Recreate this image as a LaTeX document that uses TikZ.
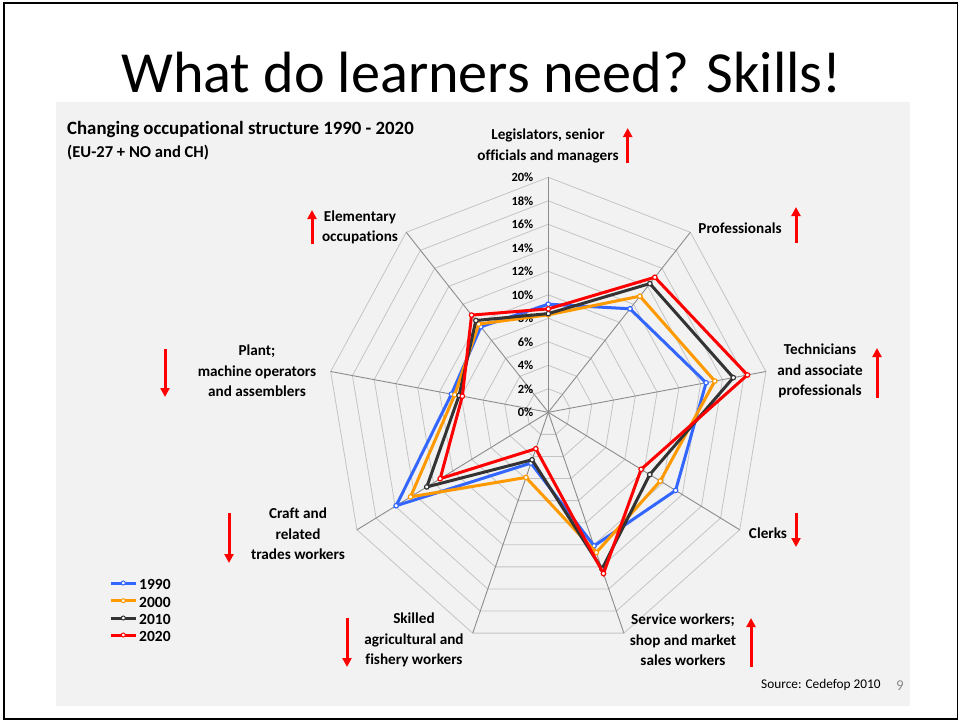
\documentclass[tikz,border=0pt]{standalone}
\usepackage{fontspec}
\setmainfont{Carlito}[Ligatures=NoCommon]
\usetikzlibrary{arrows.meta}
\definecolor{c90}{HTML}{3366FF}
\definecolor{c00}{HTML}{FF9900}
\definecolor{c10}{HTML}{333333}
\definecolor{c20}{HTML}{FF0000}
\definecolor{bgc}{HTML}{F2F2F2}
\definecolor{ringc}{HTML}{C4C4C4}
\definecolor{axisc}{HTML}{8C8C8C}
\definecolor{pgnum}{HTML}{8C8C8C}
\tikzset{
  serline/.style={line width=3pt, line join=miter},
  dotm/.style={circle, inner sep=0pt, minimum size=4.5pt, fill=white, line width=1.2pt},
  ringline/.style={draw=ringc, line width=0.8pt},
  axisline/.style={draw=axisc, line width=0.9pt},
  catlabel/.style={font=\bfseries\fontsize{15.2}{20.5}\selectfont, align=center, inner sep=0pt},
  pctlabel/.style={font=\bfseries\fontsize{12.5}{14}\selectfont, anchor=east, inner sep=0pt},
  legtext/.style={font=\bfseries\fontsize{15.5}{17}\selectfont, anchor=west, inner sep=0pt},
  trendarrow/.style={draw=c20, line width=3pt, -{Triangle[width=9pt,length=9pt]}},
}
\newcommand{\radarseries}[3]{%
  \foreach \v [count=\i from 0] in {#3} {
    \coordinate (#2-\i) at ({548.3+221*\v/20*sin(40*\i)},{412.3-235*\v/20*cos(40*\i)});
  }
  \draw[serline,draw=#1] (#2-0) -- (#2-1) -- (#2-2) -- (#2-3) -- (#2-4) -- (#2-5) -- (#2-6) -- (#2-7) -- (#2-8) -- cycle;
  \foreach \i in {0,...,8} {\node[dotm,draw=#1] at (#2-\i) {};}
}
\begin{document}
\begin{tikzpicture}[x=1pt,y=-1pt]
\useasboundingbox (0,0) rectangle (960,721);
\fill[white] (0,0) rectangle (960,721);
\draw[line width=1.8pt] (4.3,3.3) rectangle (957.5,719);
% title
\node[font=\fontsize{58.2}{60}\selectfont, anchor=base, inner sep=0pt] (title) at (481.5,92) {What do learners need? Skills!};
% chart area
\fill[bgc] (56,102) rectangle (910,706);
\node[font=\bfseries\fontsize{18.8}{20}\selectfont, anchor=base west, inner sep=0pt] (ctitle) at (67,134) {Changing occupational structure 1990 - 2020};
\node[font=\bfseries\fontsize{16.6}{18}\selectfont, anchor=base west, inner sep=0pt] (csub) at (67,157) {(EU-27 + NO and CH)};
% grid
\coordinate (ctr) at (548.3,412.3);
\foreach \k in {1,...,10} {
  \draw[ringline] ({548.3},{412.3-23.5*\k})
    \foreach \j in {1,...,8} { -- ({548.3+22.1*\k*sin(40*\j)},{412.3-23.5*\k*cos(40*\j)}) } -- cycle;
}
\foreach \j in {0,...,8} {
  \coordinate (tip\j) at ({548.3+221*sin(40*\j)},{412.3-235*cos(40*\j)});
  \draw[axisline] (ctr) -- (tip\j);
}
% percent labels
\foreach \k in {0,...,10} {
  \pgfmathtruncatemacro{\pc}{2*\k}
  \node[pctlabel] (pct\k) at (533.5,{412.3-23.5*\k}) {\pc\%};
}
% series
\radarseries{c90}{s90}{9.2,11.5,14.5,13.3,12.1,4.6,15.9,8.9,9.5}
\radarseries{c00}{s00}{8.3,12.9,15.3,11.7,12.7,5.9,14.4,8.6,9.8}
\radarseries{c10}{s10}{8.4,14.3,17.0,10.6,14.2,4.3,12.7,8.2,10.2}
\radarseries{c20}{s20}{8.8,15.0,18.3,9.7,14.6,3.3,11.3,7.9,10.8}
% category labels
\node[catlabel] (lleg) at (548,146) {Legislators, senior\\officials and managers};
\node[catlabel] (lpro) at (740,228) {Professionals};
\node[catlabel] (ltec) at (820,371) {Technicians\\and associate\\professionals};
\node[catlabel] (lcle) at (768,533) {Clerks};
\node[catlabel] (lser) at (683,640) {Service workers;\\shop and market\\sales workers};
\node[catlabel] (lagr) at (414,640) {Skilled\\agricultural and\\fishery workers};
\node[catlabel] (lcra) at (298,534) {Craft and\\related\\trades workers};
\node[catlabel] (lpla) at (257,371) {Plant;\\machine operators\\and assemblers};
\node[catlabel] (lele) at (360,227.5) {Elementary\\occupations};
% trend arrows
\coordinate (a1s) at (627.7,163); \coordinate (a1e) at (627.7,128);
\coordinate (a2s) at (796,243);   \coordinate (a2e) at (796,207);
\coordinate (a3s) at (877,398);   \coordinate (a3e) at (877,348);
\coordinate (a4s) at (796,513);   \coordinate (a4e) at (796,547);
\coordinate (a5s) at (751,667);   \coordinate (a5e) at (751,618);
\coordinate (a6s) at (347,618);   \coordinate (a6e) at (347,667);
\coordinate (a7s) at (229,513);   \coordinate (a7e) at (229,563);
\coordinate (a8s) at (165,349);   \coordinate (a8e) at (165,397);
\coordinate (a9s) at (312,244);   \coordinate (a9e) at (312,210);
\foreach \n in {1,...,9} {\draw[trendarrow] (a\n s) -- (a\n e);}
% legend
\foreach \c/\t/\yy in {c90/1990/583, c00/2000/600.7, c10/2010/618, c20/2020/635} {
  \coordinate (lg\t a) at (111,\yy);
  \coordinate (lg\t b) at (135.7,\yy);
  \draw[draw=\c, line width=3pt] (lg\t a) -- (lg\t b);
  \node[dotm, draw=\c, minimum size=4pt, line width=1pt] (lg\t m) at (123.3,\yy) {};
  \node[legtext] (lg\t t) at (139,\yy+1.5) {\t};
}
% source and page number
\node[font=\fontsize{13.3}{15}\selectfont, anchor=base west, inner sep=0pt] (src) at (761,688.3) {Source: Cedefop 2010};
\node[font=\fontsize{15}{17}\selectfont, text=pgnum, anchor=base west, inner sep=0pt] (pnum) at (896,690) {9};
\end{tikzpicture}
\end{document}
